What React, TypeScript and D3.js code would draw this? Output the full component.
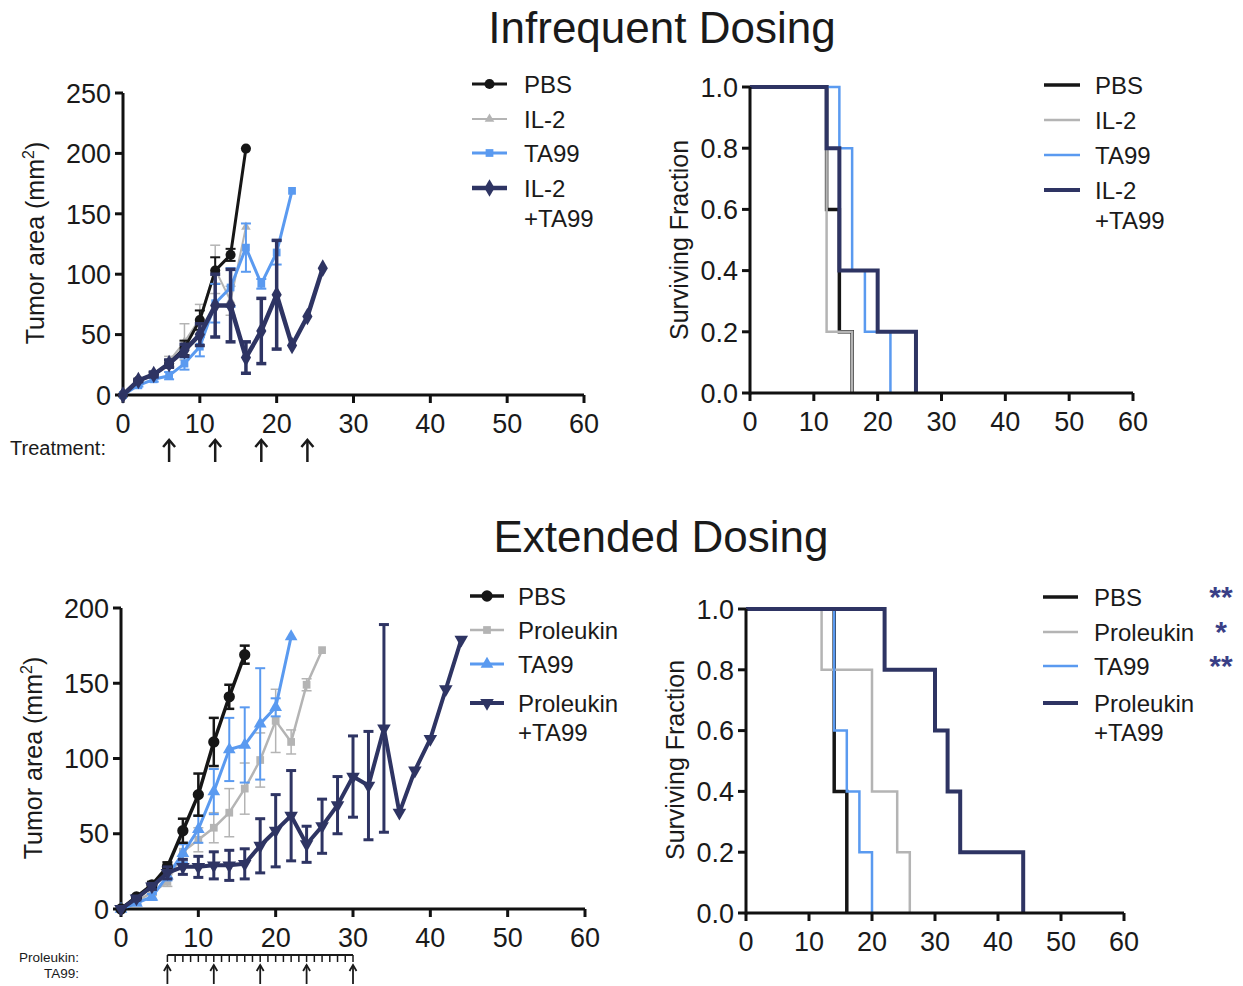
import React from 'react';
import * as d3 from 'd3';

const FONT = "'Liberation Sans', Arial, Helvetica, sans-serif";
const C_BLACK = '#161616';
const C_GRAY = '#b4b4b4';
const C_BLUE = '#5a9af0';
const C_NAVY = '#2e3463';
const C_STAR = '#3a3f86';

// ---------- Infrequent dosing: tumor area ----------
const topPbsDays = [0, 2, 4, 6, 8, 10, 12, 14, 16];
const topPbsMean = [0, 12, 17, 26, 39, 62, 103, 116, 204];
const topPbsErr = [0, 1, 2, 3, 6, 8, 11, 5, 0];

const topIl2Days = [0, 2, 4, 6, 8, 10, 12, 14, 16];
const topIl2Mean = [0, 11, 16, 28, 44, 63, 104, 78, 139];
const topIl2Err = [0, 1, 2, 4, 15, 12, 20, 12, 0];

const topTa99Days = [0, 2, 4, 6, 8, 10, 12, 14, 16, 18, 20, 22];
const topTa99Mean = [0, 8, 13, 16, 26, 40, 76, 89, 122, 92, 118, 169];
const topTa99Err = [0, 1, 2, 3, 5, 8, 16, 16, 20, 4, 10, 0];

const topComboDays = [0, 2, 4, 6, 8, 10, 12, 14, 16, 18, 20, 22, 24, 26];
const topComboMean = [0, 12, 17, 26, 37, 50, 74, 74, 31, 53, 83, 41, 65, 105];
const topComboErr = [0, 1, 2, 3, 5, 9, 26, 30, 13, 27, 45, 0, 0, 0];

// ---------- Infrequent dosing: survival (day, fraction) ----------
const topSurvPbs: [number, number][] = [[0, 1], [12, 0.6], [14, 0.2], [16, 0]];
const topSurvIl2: [number, number][] = [[0, 1], [12, 0.2], [16, 0]];
const topSurvTa99: [number, number][] = [[0, 1], [14, 0.8], [16, 0.4], [18, 0.2], [22, 0]];
const topSurvCombo: [number, number][] = [[0, 1], [12, 0.8], [14, 0.4], [20, 0.2], [26, 0]];

// ---------- Extended dosing: tumor area ----------
const botPbsDays = [0, 2, 4, 6, 8, 10, 12, 14, 16];
const botPbsMean = [0, 8, 16, 28, 52, 76, 111, 141, 169];
const botPbsErr = [0, 1, 2, 3, 8, 14, 16, 8, 6];

const botProDays = [0, 2, 4, 6, 8, 10, 12, 14, 16, 18, 20, 22, 24, 26];
const botProMean = [0, 5, 11, 18, 38, 46, 54, 64, 80, 99, 125, 111, 149, 172];
const botProErr = [0, 1, 2, 3, 6, 8, 10, 16, 17, 18, 21, 8, 4, 0];

const botTa99Days = [0, 2, 4, 6, 8, 10, 12, 14, 16, 18, 20, 22];
const botTa99Mean = [0, 4, 8, 22, 37, 53, 78, 106, 109, 123, 134, 181];
const botTa99Err = [0, 1, 2, 3, 6, 9, 15, 21, 25, 37, 6, 0];

const botComboDays = [0, 2, 4, 6, 8, 10, 12, 14, 16, 18, 20, 22, 24, 26, 28, 30, 32, 34, 36, 38, 40, 42, 44];
const botComboMean = [0, 7, 15, 24, 28, 28, 29, 29, 30, 42, 52, 62, 43, 55, 69, 88, 82, 120, 64, 92, 113, 146, 179];
const botComboErr = [0, 1, 2, 4, 5, 7, 9, 10, 10, 18, 24, 30, 12, 18, 19, 27, 36, 69, 0, 0, 0, 0, 0];

// ---------- Extended dosing: survival ----------
const botSurvPbs: [number, number][] = [[0, 1], [14, 0.4], [16, 0]];
const botSurvPro: [number, number][] = [[0, 1], [12, 0.8], [20, 0.4], [24, 0.2], [26, 0]];
const botSurvTa99: [number, number][] = [[0, 1], [14, 0.6], [16, 0.4], [18, 0.2], [20, 0]];
const botSurvCombo: [number, number][] = [[0, 1], [22, 0.8], [30, 0.6], [32, 0.4], [34, 0.2], [44, 0]];

// ---------- Ticks / labels ----------
const xTicks = [0, 10, 20, 30, 40, 50, 60];
const topTumorTicks = [0, 50, 100, 150, 200, 250];
const botTumorTicks = [0, 50, 100, 150, 200];
const survTicks = [0, 0.2, 0.4, 0.6, 0.8, 1.0];
const treatmentDays = [6, 12, 18, 24];
const proleukinDays = d3.range(6, 31, 1);
const ta99Days = [6, 12, 18, 24, 30];
const topNames = ['PBS', 'IL-2', 'TA99', 'IL-2', '+TA99'];
const botNames = ['PBS', 'Proleukin', 'TA99', 'Proleukin', '+TA99'];
const botStars = ['**', '*', '**', ''];

type Series = {
  days: number[]; mean: number[]; err: number[];
  color: string; width: number; symbol: d3.SymbolType; size: number; rotate?: number;
};

function Axes({ x, y, yTicks, yFmt }: { x: d3.ScaleLinear<number, number>; y: d3.ScaleLinear<number, number>; yTicks: number[]; yFmt: (v: number) => string }) {
  const x0 = x(0), yb = y(0);
  const yTop = y(yTicks[yTicks.length - 1]);
  return (
    <g fontFamily={FONT} fill="#1a1a1a">
      <line x1={x0} x2={x(60)} y1={yb} y2={yb} stroke="#111" strokeWidth={3} />
      <line x1={x0} x2={x0} y1={yb + 1.5} y2={yTop} stroke="#111" strokeWidth={3} />
      {xTicks.map(t => (
        <g key={'x' + t}>
          <line x1={x(t)} x2={x(t)} y1={yb} y2={yb + 8} stroke="#111" strokeWidth={3} />
          <text x={x(t)} y={yb + 38} fontSize={27} textAnchor="middle">{t}</text>
        </g>
      ))}
      {yTicks.map(t => (
        <g key={'y' + t}>
          <line x1={x0 - 8} x2={x0} y1={y(t)} y2={y(t)} stroke="#111" strokeWidth={3} />
          <text x={x0 - 12} y={y(t)} dy="0.36em" fontSize={27} textAnchor="end">{yFmt(t)}</text>
        </g>
      ))}
    </g>
  );
}

function TumorPanel({ x, y, series }: { x: d3.ScaleLinear<number, number>; y: d3.ScaleLinear<number, number>; series: Series[] }) {
  return (
    <g>
      {series.map((s, i) => {
        const pts = s.days.map((d, j) => [x(d), y(s.mean[j])] as [number, number]);
        const sym = d3.symbol().type(s.symbol).size(s.size)() || '';
        return (
          <g key={i}>
            {s.days.map((d, j) => s.err[j] > 0 ? (
              <g key={'e' + j} stroke={s.color} strokeWidth={Math.max(1.5, s.width - 1)}>
                <line x1={x(d)} x2={x(d)} y1={y(s.mean[j] - s.err[j])} y2={y(s.mean[j] + s.err[j])} />
                <line x1={x(d) - 5} x2={x(d) + 5} y1={y(s.mean[j] + s.err[j])} y2={y(s.mean[j] + s.err[j])} />
                <line x1={x(d) - 5} x2={x(d) + 5} y1={y(s.mean[j] - s.err[j])} y2={y(s.mean[j] - s.err[j])} />
              </g>
            ) : null)}
            <path d={d3.line()(pts) || ''} fill="none" stroke={s.color} strokeWidth={s.width} strokeLinejoin="round" />
            {pts.map((p, j) => (
              <path key={'m' + j} d={sym} transform={`translate(${p[0]},${p[1]}) rotate(${s.rotate || 0})`} fill={s.color} />
            ))}
          </g>
        );
      })}
    </g>
  );
}

function SurvPanel({ x, y, curves }: { x: d3.ScaleLinear<number, number>; y: d3.ScaleLinear<number, number>; curves: { steps: [number, number][]; color: string; width: number }[] }) {
  const line = d3.line<[number, number]>().x(d => x(d[0])).y(d => y(d[1])).curve(d3.curveStepAfter);
  return (
    <g>
      {curves.map((c, i) => (
        <path key={i} d={line(c.steps) || ''} fill="none" stroke={c.color} strokeWidth={c.width} />
      ))}
    </g>
  );
}

function Legend({ x, ys, names, series, withMarkers, lineLen, textX, stars }: any) {
  return (
    <g fontFamily={FONT} fontSize={24} fill="#1a1a1a">
      {series.map((s: any, i: number) => {
        const sym = withMarkers ? d3.symbol().type(s.symbol).size(s.size)() || '' : '';
        return (
          <g key={i}>
            <line x1={x} x2={x + lineLen} y1={ys[i]} y2={ys[i]} stroke={s.color} strokeWidth={s.width} />
            {withMarkers && <path d={sym} transform={`translate(${x + lineLen / 2},${ys[i]}) rotate(${s.rotate || 0})`} fill={s.color} />}
          </g>
        );
      })}
      {names.map((n: string, i: number) => (
        <text key={'t' + i} x={textX} y={ys[i]} dy="0.36em">{n}</text>
      ))}
      {stars && stars.map((st: string, i: number) => st ? (
        <text key={'s' + i} x={1221} y={ys[i] + 10} textAnchor="middle" fontSize={30} fontWeight="bold" fill={C_STAR}>{st}</text>
      ) : null)}
    </g>
  );
}

function YLabel({ x, y, children }: any) {
  return (
    <text transform={`translate(${x},${y}) rotate(-90)`} textAnchor="middle" fontFamily={FONT} fontSize={25} fill="#1a1a1a">{children}</text>
  );
}

export default function App() {
  const xTL = d3.scaleLinear().domain([0, 60]).range([123, 584]);
  const yTL = d3.scaleLinear().domain([0, 250]).range([395, 93]);
  const xTR = d3.scaleLinear().domain([0, 60]).range([750, 1133]);
  const yTR = d3.scaleLinear().domain([0, 1]).range([393, 87]);
  const xBL = d3.scaleLinear().domain([0, 60]).range([121, 585]);
  const yBL = d3.scaleLinear().domain([0, 200]).range([909, 608]);
  const xBR = d3.scaleLinear().domain([0, 60]).range([746, 1124]);
  const yBR = d3.scaleLinear().domain([0, 1]).range([913, 609]);

  const topSeries: Series[] = [
    { days: topIl2Days, mean: topIl2Mean, err: topIl2Err, color: C_GRAY, width: 2, symbol: d3.symbolTriangle, size: 40 },
    { days: topPbsDays, mean: topPbsMean, err: topPbsErr, color: C_BLACK, width: 3, symbol: d3.symbolCircle, size: 80 },
    { days: topTa99Days, mean: topTa99Mean, err: topTa99Err, color: C_BLUE, width: 3, symbol: d3.symbolSquare, size: 60 },
    { days: topComboDays, mean: topComboMean, err: topComboErr, color: C_NAVY, width: 4.5, symbol: d3.symbolDiamond, size: 90 },
  ];
  const topLegendSeries = [topSeries[1], topSeries[0], topSeries[2], topSeries[3]];

  const botSeries: Series[] = [
    { days: botProDays, mean: botProMean, err: botProErr, color: C_GRAY, width: 2.5, symbol: d3.symbolSquare, size: 60 },
    { days: botTa99Days, mean: botTa99Mean, err: botTa99Err, color: C_BLUE, width: 3, symbol: d3.symbolTriangle, size: 70 },
    { days: botPbsDays, mean: botPbsMean, err: botPbsErr, color: C_BLACK, width: 3.5, symbol: d3.symbolCircle, size: 100 },
    { days: botComboDays, mean: botComboMean, err: botComboErr, color: C_NAVY, width: 4, symbol: d3.symbolTriangle, size: 80, rotate: 180 },
  ];
  const botLegendSeries = [botSeries[2], botSeries[0], botSeries[1], botSeries[3]];

  const topSurv = [
    { steps: topSurvPbs, color: C_BLACK, width: 3.5 },
    { steps: topSurvIl2, color: C_GRAY, width: 2.5 },
    { steps: topSurvTa99, color: C_BLUE, width: 2.5 },
    { steps: topSurvCombo, color: C_NAVY, width: 4 },
  ];
  const botSurv = [
    { steps: botSurvPbs, color: C_BLACK, width: 3.5 },
    { steps: botSurvPro, color: C_GRAY, width: 2.5 },
    { steps: botSurvTa99, color: C_BLUE, width: 2.5 },
    { steps: botSurvCombo, color: C_NAVY, width: 4 },
  ];
  const fmtInt = (v: number) => String(v);
  const fmt1 = d3.format('.1f');

  const mm2 = (
    <>Tumor area (mm<tspan fontSize={16} dy={-10}>2</tspan><tspan dy={10}>)</tspan></>
  );

  return (
    <svg width={1243} height={986} style={{ position: 'absolute', left: 0, top: 0, background: '#fff' }}>
      <rect width={1243} height={986} fill="#fff" />
      <text x={662} y={43} textAnchor="middle" fontFamily={FONT} fontSize={44} fill="#1a1a1a">Infrequent Dosing</text>
      <text x={661} y={552} textAnchor="middle" fontFamily={FONT} fontSize={44} fill="#1a1a1a">Extended Dosing</text>

      {/* Top-left */}
      <Axes x={xTL} y={yTL} yTicks={topTumorTicks} yFmt={fmtInt} />
      <TumorPanel x={xTL} y={yTL} series={topSeries} />
      <YLabel x={44} y={243}>{mm2}</YLabel>
      <Legend x={472} ys={[84, 119, 153, 188, 218]} names={topNames} series={topLegendSeries} withMarkers lineLen={35} textX={524} />
      <text x={10} y={455} fontFamily={FONT} fontSize={20} fill="#1a1a1a">Treatment:</text>
      {treatmentDays.map(d => (
        <g key={'tr' + d} stroke="#1a1a1a" strokeWidth={2.5} fill="none">
          <line x1={xTL(d)} x2={xTL(d)} y1={462} y2={440} />
          <path d={`M${xTL(d) - 6},${447} L${xTL(d)},${440} L${xTL(d) + 6},${447}`} />
        </g>
      ))}

      {/* Top-right */}
      <SurvPanel x={xTR} y={yTR} curves={topSurv} />
      <Axes x={xTR} y={yTR} yTicks={survTicks} yFmt={fmt1} />
      <YLabel x={688} y={240}>Surviving Fraction</YLabel>
      <Legend x={1044} ys={[85, 120, 155, 190, 220]} names={topNames} series={topSurv} lineLen={36} textX={1095} />

      {/* Bottom-left */}
      <Axes x={xBL} y={yBL} yTicks={botTumorTicks} yFmt={fmtInt} />
      <TumorPanel x={xBL} y={yBL} series={botSeries} />
      <YLabel x={42} y={758}>{mm2}</YLabel>
      <Legend x={470} ys={[596, 630, 664, 703, 732]} names={botNames} series={botLegendSeries} withMarkers lineLen={34} textX={518} />
      <text x={79} y={962} textAnchor="end" fontFamily={FONT} fontSize={13.5} fill="#1a1a1a">Proleukin:</text>
      <text x={79} y={978} textAnchor="end" fontFamily={FONT} fontSize={13.5} fill="#1a1a1a">TA99:</text>
      <g stroke="#1a1a1a" fill="none">
        <line x1={xBL(6)} x2={xBL(30)} y1={955} y2={955} strokeWidth={2} />
        {proleukinDays.map(d => (
          <line key={'p' + d} x1={xBL(d)} x2={xBL(d)} y1={955} y2={962} strokeWidth={1.5} />
        ))}
        {ta99Days.map(d => (
          <g key={'a' + d} strokeWidth={1.8}>
            <line x1={xBL(d)} x2={xBL(d)} y1={965} y2={984} />
            <path d={`M${xBL(d) - 3.5},${971} L${xBL(d)},${965} L${xBL(d) + 3.5},${971}`} />
          </g>
        ))}
      </g>

      {/* Bottom-right */}
      <SurvPanel x={xBR} y={yBR} curves={botSurv} />
      <Axes x={xBR} y={yBR} yTicks={survTicks} yFmt={fmt1} />
      <YLabel x={684} y={760}>Surviving Fraction</YLabel>
      <Legend x={1043} ys={[597, 632, 666, 703, 732]} names={botNames} series={botSurv} lineLen={35} textX={1094} stars={botStars} />
    </svg>
  );
}
